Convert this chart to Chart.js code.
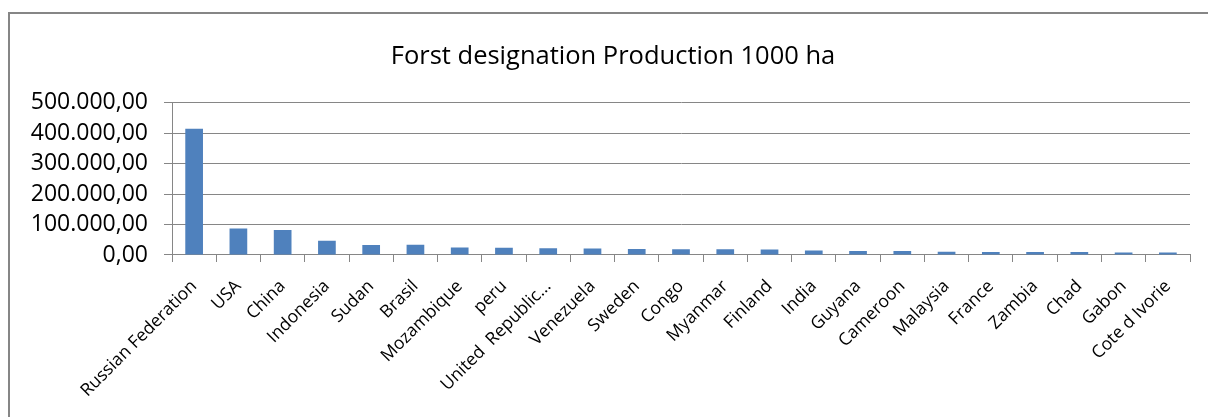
<!DOCTYPE html>
<html>
<head>
<meta charset="utf-8">
<script src="https://cdn.jsdelivr.net/npm/chart.js@4/dist/chart.umd.min.js"></script>
<style>
  html, body { margin: 0; padding: 0; background: #ffffff; }
  #wrap { width: 1208px; height: 417px; position: relative; }
</style>
</head>
<body>
<div id="wrap"><canvas id="c" width="1208" height="417"></canvas></div>
<script>
const categories = ["Russian Federation", "USA", "China", "Indonesia", "Sudan", "Brasil", "Mozambique", "peru", "United  Republic...", "Venezuela", "Sweden", "Congo", "Myanmar", "Finland", "India", "Guyana", "Cameroon", "Malaysia", "France", "Zambia", "Chad", "Gabon", "Cote d Ivorie"];
const productionValues = [414000, 87000, 82000, 47000, 33000, 33500, 25000, 24000, 22000, 21000, 20000, 19000, 19000, 18000, 15000, 13000, 13000, 11000, 10000, 10000, 10000, 8500, 8500];
const yTickValues = [0, 100000, 200000, 300000, 400000, 500000];
const chartTitle = "Forst designation Production 1000 ha";

function formatDe(v) {
  const intPart = Math.round(v).toString().replace(/\B(?=(\d{3})+(?!\d))/g, ".");
  return intPart + ",00";
}

const frame = {
  id: 'frame',
  afterLayout(chart) {
    // centre the title over the chart frame (as in the reference) rather than the padded canvas
    if (chart.titleBlock) {
      chart.titleBlock.left = 36;
      chart.titleBlock.right = 1190;
    }
  },
  afterDraw(chart) {
    const ctx = chart.ctx;
    ctx.save();
    ctx.strokeStyle = '#868686';
    ctx.lineWidth = 2;
    ctx.beginPath();
    ctx.moveTo(9, 430);
    ctx.lineTo(9, 13);
    ctx.lineTo(1230, 13);
    ctx.stroke();
    ctx.restore();
  }
};

new Chart(document.getElementById('c'), {
  type: 'bar',
  data: {
    labels: categories,
    datasets: [{
      data: productionValues,
      backgroundColor: '#4F81BD',
      borderWidth: 0,
      barPercentage: 0.4,
      categoryPercentage: 1.0
    }]
  },
  options: {
    responsive: false,
    animation: false,
    layout: { padding: { left: 8, right: 18, top: 0, bottom: 0 } },
    plugins: {
      legend: { display: false },
      tooltip: { enabled: false },
      title: {
        display: true,
        text: chartTitle,
        color: '#000000',
        font: { family: 'Open Sans', size: 25.5, weight: 'normal', lineHeight: 1.2 },
        padding: { top: 41, bottom: 31 }
      }
    },
    scales: {
      x: {
        offset: true,
        grid: {
          offset: true,
          drawOnChartArea: false,
          drawTicks: true,
          tickLength: 7,
          color: '#868686',
          lineWidth: 1
        },
        border: { color: '#868686', width: 1 },
        ticks: {
          autoSkip: false,
          maxRotation: 45,
          minRotation: 45,
          color: '#000000',
          padding: 14,
          font: { family: 'Open Sans', size: 17.5 }
        },
        afterFit(scale) { scale.height = 162; }
      },
      y: {
        min: 0,
        max: 500000,
        afterBuildTicks(scale) { scale.ticks = yTickValues.map(v => ({ value: v })); },
        grid: {
          color: '#868686',
          lineWidth: 1,
          drawTicks: true,
          tickLength: 8
        },
        border: { color: '#868686', width: 1 },
        ticks: {
          autoSkip: false,
          color: '#000000',
          padding: 16,
          font: { family: 'Open Sans', size: 23 },
          callback: (v) => formatDe(v)
        },
        afterFit(scale) { scale.width = 164; }
      }
    }
  },
  plugins: [frame]
});
</script>
</body>
</html>
